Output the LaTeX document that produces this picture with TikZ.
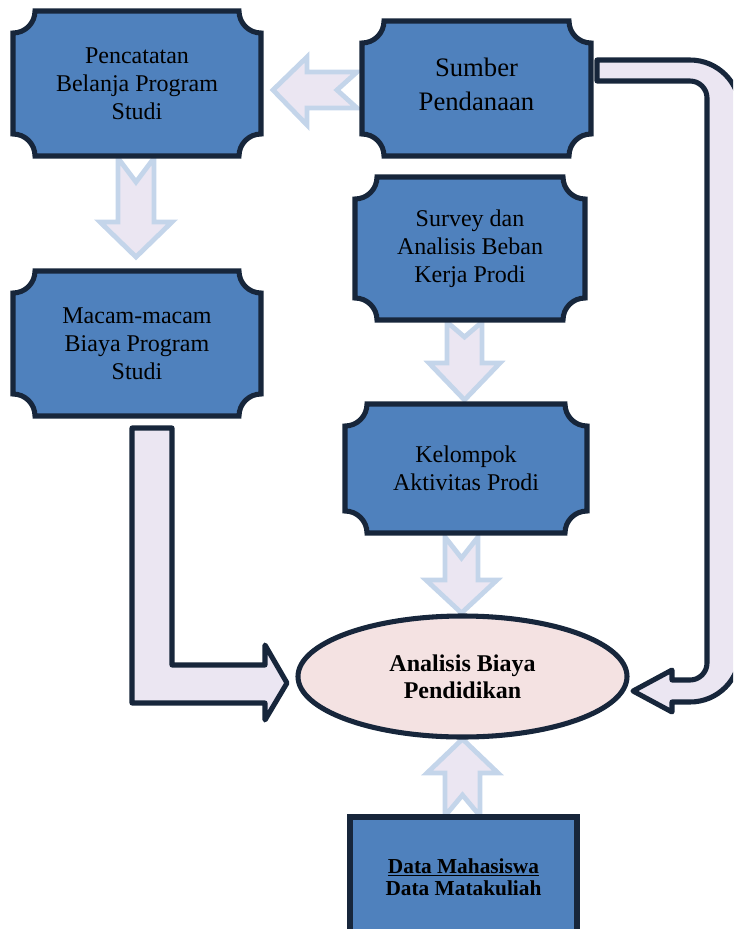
\documentclass[tikz,border=0pt]{standalone}
\usepackage{fontspec}
\setmainfont{Liberation Serif}
\usetikzlibrary{shapes.geometric}
\definecolor{boxblue}{HTML}{4F81BD}
\definecolor{navy}{HTML}{17263B}
\definecolor{lav}{HTML}{EBE6F2}
\definecolor{arrowblue}{HTML}{C4D5EA}
\definecolor{pinkfill}{HTML}{F4E2E2}
\tikzset{
  plaquebox/.style={draw=navy, fill=boxblue, line width=3.8pt},
  plaquetext/.style={align=center, inner sep=0pt, text=black, font=\fontsize{18}{21}\selectfont},
  hollow/.style={draw=arrowblue, fill=lav, line width=3.6pt, line join=miter},
  bent/.style={draw=navy, fill=lav, line width=3.8pt, line join=round},
  ellnode/.style={ellipse, draw=navy, fill=pinkfill, line width=3.8pt, inner sep=0pt, align=center, font=\bfseries\fontsize{18}{20.5}\selectfont},
  databox/.style={rectangle, draw=navy, fill=boxblue, line width=3.8pt, inner sep=0pt, align=center, font=\bfseries\fontsize{16}{16.5}\selectfont}
}
% name, x1, y1, x2, y2 (screen px), extra style, text
\newcommand\plq[7]{%
  \draw[plaquebox] ({#2+22},{-#3}) -- ({#4-22},{-#3})
    arc[start angle=180,end angle=270,radius=16.5pt] -- ({#4},{-#5+22})
    arc[start angle=90,end angle=180,radius=16.5pt] -- ({#2+22},{-#5})
    arc[start angle=0,end angle=90,radius=16.5pt] -- ({#2},{-#3-22})
    arc[start angle=270,end angle=360,radius=16.5pt] -- cycle;
  \node[plaquetext, minimum width={(#4-#2)*0.75pt}, minimum height={(#5-#3)*0.75pt}, #6]
    (#1) at ({(#2+#4)/2},{-(#3+#5)/2}) {#7};
}
\begin{document}
\begin{tikzpicture}[x=0.75pt,y=0.75pt]
\useasboundingbox (0,0) rectangle (733,-929);
\clip (0,0) rectangle (733,-929);

% hollow block arrows
\draw[hollow] (273,-90) -- (307,-57) -- (307,-72) -- (357,-72) -- (337,-90) -- (357,-108) -- (307,-108) -- (307,-125) -- cycle;
\draw[hollow] (118,-158) -- (136,-182) -- (154,-158) -- (154,-222) -- (172,-222) -- (136,-257) -- (100,-222) -- (118,-222) -- cycle;
\draw[hollow] (447,-322) -- (464.5,-337) -- (482,-322) -- (482,-363) -- (500,-363) -- (464.5,-400) -- (429,-363) -- (447,-363) -- cycle;
\draw[hollow] (445,-537) -- (461.5,-558) -- (478,-537) -- (478,-580) -- (497,-580) -- (461.5,-613) -- (426,-580) -- (445,-580) -- cycle;
\draw[hollow] (445,-816) -- (462.5,-795) -- (480,-816) -- (480,-773) -- (498,-773) -- (462.5,-739) -- (427,-773) -- (445,-773) -- cycle;

% bent arrows
\draw[bent] (132,-428) -- (172,-428) -- (172,-665) -- (265,-665) -- (265,-645) -- (287,-683) -- (265,-720) -- (265,-703) -- (132,-703) -- cycle;
\draw[bent] (597,-60) -- (690,-60) arc[start angle=90,end angle=0,radius=37.5pt]
  -- (740,-652) arc[start angle=0,end angle=-90,radius=37.5pt]
  -- (672,-702) -- (672,-712) -- (633,-691) -- (672,-670) -- (672,-680) -- (690,-680)
  arc[start angle=-90,end angle=0,radius=12.75pt]
  -- (707,-98) arc[start angle=0,end angle=90,radius=12.75pt]
  -- (597,-81) -- cycle;

% plaque boxes
\plq{pencatatan}{13}{11}{261}{156}{}{Pencatatan\\Belanja Program\\Studi}
\plq{sumber}{362}{21}{591}{156}{font=\fontsize{20}{25}\selectfont, yshift=3pt}{Sumber\\Pendanaan}
\plq{survey}{355}{177}{585}{320}{}{Survey dan\\Analisis Beban\\Kerja Prodi}
\plq{kelompok}{345}{404}{587}{533}{}{Kelompok\\Aktivitas Prodi}
\plq{macam}{13}{271}{261}{416}{}{Macam-macam\\Biaya Program\\Studi}

% ellipse
\node[ellnode, minimum width=246.75pt, minimum height=90.75pt] (analisis) at (462.5,-676.5) {Analisis Biaya\\Pendidikan};

% data box
\node[databox, minimum width=170.25pt, minimum height=90pt] (data) at (463.5,-877) {\underline{Data Mahasiswa}\\Data Matakuliah};
\end{tikzpicture}
\end{document}
